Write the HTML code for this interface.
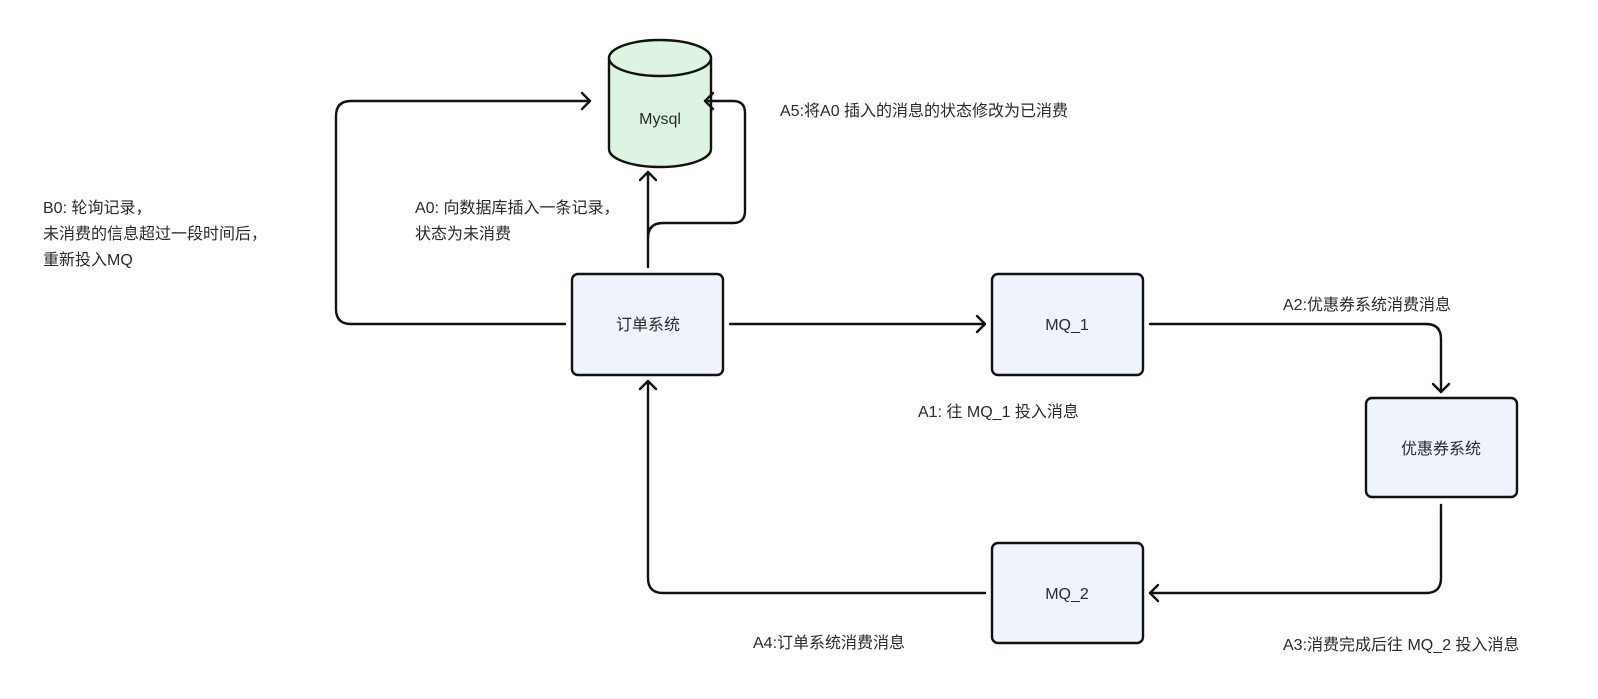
<!DOCTYPE html>
<html><head><meta charset="utf-8"><style>
html,body{margin:0;padding:0;background:#fff}
svg text{font-family:"Liberation Sans","Noto Sans CJK SC",sans-serif;font-size:16px;fill:#2a2a2a}
</style></head><body>
<svg width="1598" height="694" viewBox="0 0 1598 694" xmlns="http://www.w3.org/2000/svg">
<g fill="none" stroke="#111" stroke-width="2.4" stroke-linecap="round" stroke-linejoin="round">
<path d="M609 58 L609 149 A51 18 0 0 0 711 149 L711 58" fill="#def4e3"/>
<ellipse cx="660" cy="58" rx="51" ry="18" fill="#def4e3"/>
<rect x="572" y="274" width="151" height="101" rx="6" fill="#eef3fc"/>
<rect x="992" y="274" width="151" height="101" rx="6" fill="#eef3fc"/>
<rect x="992" y="543" width="151" height="100" rx="6" fill="#eef3fc"/>
<rect x="1366" y="398" width="151" height="99" rx="6" fill="#eef3fc"/>
<path d="M648 267 L648 172"/><path d="M640 180 L648 172 L656 180"/>
<path d="M648 238 Q648 223 663 223 L733 223 Q745 223 745 211 L745 113 Q745 101 733 101 L705 101"/><path d="M713 93 L705 101 L713 109"/>
<path d="M565 324 L351 324 Q336 324 336 309 L336 116 Q336 101 351 101 L590 101"/><path d="M582 93 L590 101 L582 109"/>
<path d="M730 324 L985 324"/><path d="M977 316 L985 324 L977 332"/>
<path d="M1150 324 L1426 324 Q1441 324 1441 339 L1441 392"/><path d="M1433 384 L1441 392 L1449 384"/>
<path d="M1441 505 L1441 578 Q1441 593 1426 593 L1150 593"/><path d="M1158 585 L1150 593 L1158 601"/>
<path d="M985 593 L663 593 Q648 593 648 578 L648 381"/><path d="M640 389 L648 381 L656 389"/>
</g>
<text x="660" y="124" text-anchor="middle">Mysql</text>
<text x="648" y="330" text-anchor="middle">订单系统</text>
<text x="1067" y="330" text-anchor="middle">MQ_1</text>
<text x="1067" y="599" text-anchor="middle">MQ_2</text>
<text x="1441" y="454" text-anchor="middle">优惠券系统</text>
<text x="780" y="116">A5:将A0 插入的消息的状态修改为已消费</text>
<text x="415" y="213">A0: 向数据库插入一条记录，</text>
<text x="415" y="239">状态为未消费</text>
<text x="43" y="213">B0: 轮询记录，</text>
<text x="43" y="239">未消费的信息超过一段时间后，</text>
<text x="43" y="265">重新投入MQ</text>
<text x="1283" y="310">A2:优惠券系统消费消息</text>
<text x="918" y="417">A1: 往 MQ_1 投入消息</text>
<text x="753" y="648">A4:订单系统消费消息</text>
<text x="1283" y="650">A3:消费完成后往 MQ_2 投入消息</text>
</svg>
</body></html>
